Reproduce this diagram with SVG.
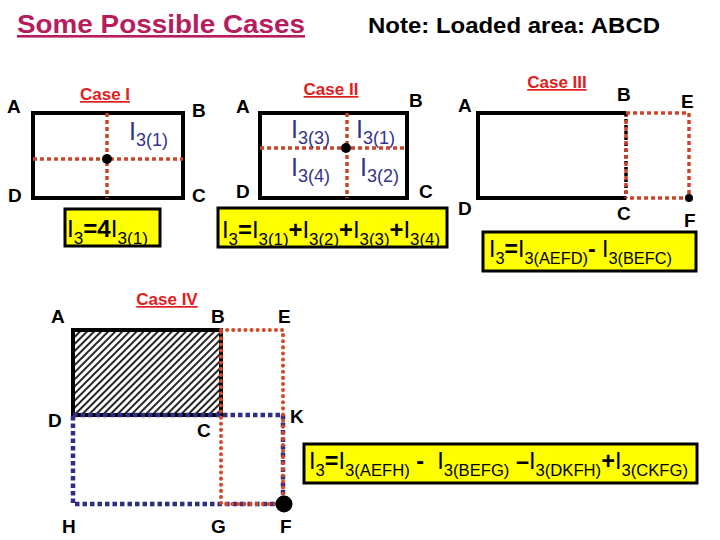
<svg xmlns="http://www.w3.org/2000/svg" width="720" height="540" viewBox="0 0 720 540">
<defs>
<pattern id="hatch" patternUnits="userSpaceOnUse" width="5" height="5" patternTransform="rotate(45)">
<line x1="1" y1="0" x2="1" y2="5" stroke="#000" stroke-width="1.7"/>
</pattern>
</defs>
<style>
text{font-family:"Liberation Sans",Arial,sans-serif}
.pt{font-size:19px;font-weight:bold;fill:#000}
.case{font-size:17px;font-weight:bold;fill:#E0201E;text-decoration:underline;text-anchor:middle}
.lbl{font-size:25px;fill:#33338A}
.lbl .sub{font-size:18px}
.f{font-size:24px;fill:#000}
.f .sub{font-size:17px}
.op{font-weight:bold}
.box{fill:#FFFF00;stroke:#000;stroke-width:3}
.edge{fill:none;stroke:#000;stroke-width:4}
.rd{fill:none;stroke:#C8462A;stroke-width:3.5;stroke-dasharray:4 3}
.rdot{fill:none;stroke:#D24A28;stroke-width:4;stroke-dasharray:0.1 6;stroke-linecap:round}
.bd{fill:none;stroke:#2E2E86;stroke-width:4.5;stroke-dasharray:4.5 3}
</style>
<rect width="720" height="540" fill="#fff"/>
<text x="17" y="33" font-size="26" font-weight="bold" fill="#B71C5C" text-decoration="underline" textLength="288" lengthAdjust="spacingAndGlyphs">Some Possible Cases</text>
<text x="368" y="33" font-size="22" font-weight="bold" fill="#000" textLength="292" lengthAdjust="spacingAndGlyphs">Note: Loaded area: ABCD</text>

<g id="case1">
<text class="case" x="105" y="100">Case I</text>
<rect class="edge" x="33" y="113" width="150" height="85"/>
<g class="connectors">
<line class="rd" x1="107" y1="113" x2="107" y2="198"/>
<line class="rd" x1="33" y1="159" x2="183" y2="159"/>
</g>
<circle cx="107" cy="159" r="5" fill="#000"/>
<text class="lbl" x="129" y="140">I<tspan class="sub" dy="6">3(1)</tspan></text>
<text class="pt" x="7" y="113">A</text>
<text class="pt" x="192" y="117">B</text>
<text class="pt" x="8" y="202">D</text>
<text class="pt" x="192" y="202">C</text>
<rect class="box" x="65" y="209" width="95" height="37"/>
<text class="f" x="67" y="237" textLength="81" lengthAdjust="spacingAndGlyphs">I<tspan class="sub" dy="7">3</tspan><tspan class="op" dy="-7">=4</tspan>I<tspan class="sub" dy="7">3(1)</tspan></text>
</g>

<g id="case2">
<text class="case" x="331" y="95">Case II</text>
<rect class="edge" x="260" y="113" width="147" height="85"/>
<g class="connectors">
<line class="rd" x1="347" y1="113" x2="347" y2="198"/>
<line class="rd" x1="260" y1="148" x2="407" y2="148"/>
</g>
<circle cx="346" cy="148" r="5" fill="#000"/>
<text class="lbl" x="291" y="138">I<tspan class="sub" dy="6">3(3)</tspan></text>
<text class="lbl" x="356" y="138">I<tspan class="sub" dy="6">3(1)</tspan></text>
<text class="lbl" x="291" y="176">I<tspan class="sub" dy="6">3(4)</tspan></text>
<text class="lbl" x="360" y="176">I<tspan class="sub" dy="6">3(2)</tspan></text>
<text class="pt" x="236" y="113">A</text>
<text class="pt" x="409" y="107">B</text>
<text class="pt" x="236" y="198">D</text>
<text class="pt" x="419" y="198">C</text>
<rect class="box" x="218" y="208" width="229" height="39"/>
<text class="f" x="222" y="238" textLength="218" lengthAdjust="spacingAndGlyphs">I<tspan class="sub" dy="7">3</tspan><tspan class="op" dy="-7">=</tspan>I<tspan class="sub" dy="7">3(1)</tspan><tspan class="op" dy="-7">+</tspan>I<tspan class="sub" dy="7">3(2)</tspan><tspan class="op" dy="-7">+</tspan>I<tspan class="sub" dy="7">3(3)</tspan><tspan class="op" dy="-7">+</tspan>I<tspan class="sub" dy="7">3(4)</tspan></text>
</g>

<g id="case3">
<text class="case" x="557" y="88">Case III</text>
<path class="edge" d="M626,113 H478 V198 H626"/>
<g class="connectors">
<line x1="626" y1="113" x2="626" y2="198" stroke="#000" stroke-width="3.5" stroke-dasharray="3 3"/>
<path class="rd" d="M626,113 H689 V198 H626"/>
<line class="rd" x1="626" y1="116" x2="626" y2="198" stroke-dashoffset="3"/>
</g>
<circle cx="689" cy="198" r="4" fill="#000"/>
<text class="pt" x="458" y="112">A</text>
<text class="pt" x="617" y="101">B</text>
<text class="pt" x="681" y="108">E</text>
<text class="pt" x="458" y="215">D</text>
<text class="pt" x="617" y="220">C</text>
<text class="pt" x="684" y="227">F</text>
<rect class="box" x="483" y="232" width="213" height="39"/>
<text class="f" x="489" y="257" textLength="183" lengthAdjust="spacingAndGlyphs">I<tspan class="sub" dy="7">3</tspan><tspan class="op" dy="-7">=</tspan>I<tspan class="sub" dy="7">3(AEFD)</tspan><tspan class="op" dy="-7">-&#160;</tspan>I<tspan class="sub" dy="7">3(BEFC)</tspan></text>
</g>

<g id="case4">
<text class="case" x="167" y="305">Case IV</text>
<rect x="73" y="330" width="148" height="85" fill="url(#hatch)"/>
<rect class="edge" x="73" y="330" width="148" height="85"/>
<g class="connectors">
<path class="bd" d="M73,415 H283 V504 H73 Z"/>
<path class="rdot" d="M221,330 H283 V504 H221 Z"/>
</g>
<circle cx="284" cy="504" r="8.5" fill="#000"/>
<text class="pt" x="51" y="323">A</text>
<text class="pt" x="211" y="323">B</text>
<text class="pt" x="278" y="323">E</text>
<text class="pt" x="48" y="427">D</text>
<text class="pt" x="197" y="437">C</text>
<text class="pt" x="290" y="423">K</text>
<text class="pt" x="62" y="533">H</text>
<text class="pt" x="211" y="533">G</text>
<text class="pt" x="280" y="533">F</text>
</g>

<g id="formula4">
<rect class="box" x="304" y="444" width="393" height="39"/>
<text class="f" x="309" y="469" textLength="379" lengthAdjust="spacingAndGlyphs">I<tspan class="sub" dy="7">3</tspan><tspan class="op" dy="-7">=</tspan>I<tspan class="sub" dy="7">3(AEFH)</tspan><tspan class="op" dy="-7">&#160;-&#160;&#160;</tspan>I<tspan class="sub" dy="7">3(BEFG)</tspan><tspan class="op" dy="-7">&#160;–</tspan>I<tspan class="sub" dy="7">3(DKFH)</tspan><tspan class="op" dy="-7">+</tspan>I<tspan class="sub" dy="7">3(CKFG)</tspan></text>
</g>
</svg>
